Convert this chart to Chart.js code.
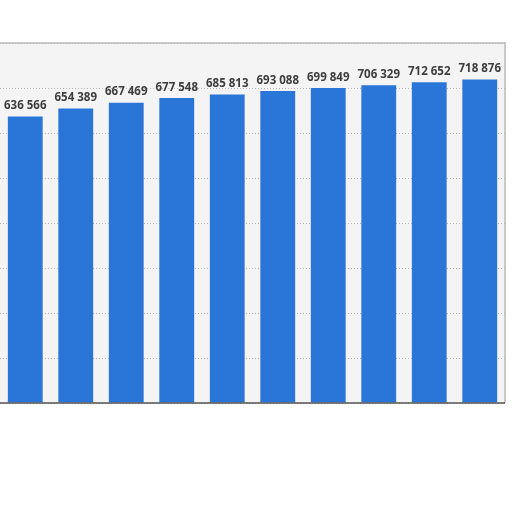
<!DOCTYPE html>
<html>
<head>
<meta charset="utf-8">
<script src="https://cdn.jsdelivr.net/npm/chart.js@4/dist/chart.umd.min.js"></script>
<style>
  html, body { margin: 0; padding: 0; background: #fff; }
  #wrap { width: 512px; height: 512px; }
</style>
</head>
<body>
<div id="wrap"><canvas id="chart" width="512" height="512"></canvas></div>
<script>
const categories = ['1', '2', '3', '4', '5', '6', '7', '8', '9', '10'];
const values = [636566, 654389, 667469, 677548, 685813, 693088, 699849, 706329, 712652, 718876];
const yTicks = [0, 100000, 200000, 300000, 400000, 500000, 600000, 700000, 800000];

function fmt(n) {
    return String(n).replace(/\B(?=(\d{3})+(?!\d))/g, ' ');
}

// light plot background + frame
const areaBg = {
    id: 'areaBg',
    beforeDraw(chart) {
        const { ctx, chartArea: a } = chart;
        ctx.save();
        ctx.fillStyle = '#f4f4f4';
        ctx.fillRect(a.left, a.top, a.right - a.left, a.bottom - a.top);
        ctx.strokeStyle = '#c8c8c8';
        ctx.lineWidth = 2;
        ctx.beginPath();
        ctx.moveTo(a.left, a.top);
        ctx.lineTo(a.right, a.top);
        ctx.lineTo(a.right, a.bottom);
        ctx.stroke();
        ctx.restore();
    },
    afterDatasetsDraw(chart) {
        const { ctx, chartArea: a } = chart;
        ctx.save();
        ctx.strokeStyle = '#555';
        ctx.lineWidth = 1.5;
        ctx.beginPath();
        ctx.moveTo(0, a.bottom);
        ctx.lineTo(a.right, a.bottom);
        ctx.stroke();
        ctx.restore();
    }
};

// value labels above bars
const barLabels = {
    id: 'barLabels',
    afterDatasetsDraw(chart) {
        const { ctx } = chart;
        const meta = chart.getDatasetMeta(0);
        ctx.save();
        ctx.font = 'bold 11.5px "Open Sans", sans-serif';
        ctx.fillStyle = '#3d3d3d';
        ctx.textAlign = 'center';
        ctx.textBaseline = 'bottom';
        meta.data.forEach((bar, i) => {
            ctx.fillText(fmt(values[i]), bar.x, bar.y - 5);
        });
        ctx.restore();
    }
};

new Chart(document.getElementById('chart').getContext('2d'), {
    type: 'bar',
    data: {
        labels: categories,
        datasets: [{
            data: values,
            backgroundColor: '#2a75d8',
            categoryPercentage: 1,
            barPercentage: 0.69
        }]
    },
    options: {
        responsive: false,
        animation: false,
        layout: { padding: { top: 43, bottom: 109, left: 0, right: 7 } },
        plugins: {
            legend: { display: false },
            tooltip: { enabled: false }
        },
        scales: {
            x: { display: false },
            y: {
                min: 0,
                max: 800000,
                afterBuildTicks: axis => { axis.ticks = yTicks.map(v => ({ value: v })); },
                ticks: { display: false },
                border: { display: false, dash: [1, 2] },
                grid: {
                    color: '#b5b5b5',
                    drawTicks: false
                },
                afterFit: axis => { axis.width = 0; }
            }
        }
    },
    plugins: [areaBg, barLabels]
});
</script>
</body>
</html>
